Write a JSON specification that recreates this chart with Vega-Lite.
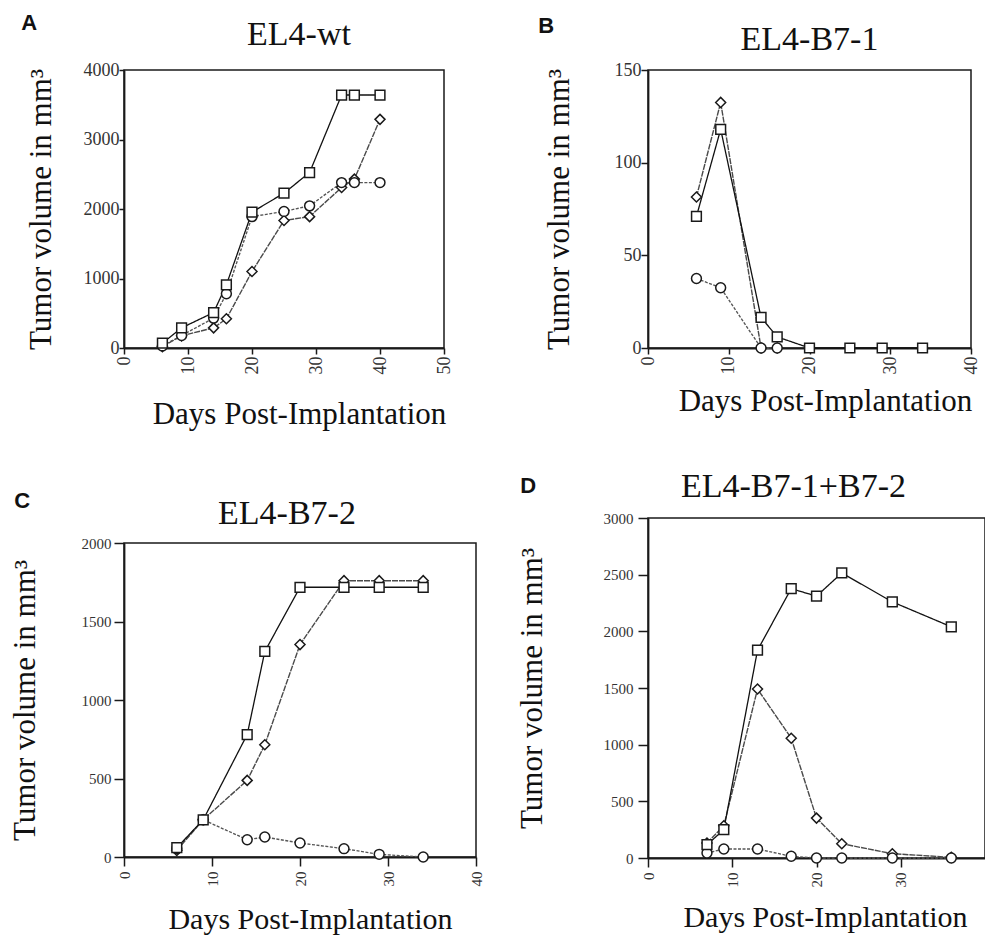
{
  "$schema": "https://vega.github.io/schema/vega-lite/v6.json",
  "padding": {"left": 8, "top": 12, "right": 0, "bottom": 0},
  "background": "white",
  "config": {
    "view": {"stroke": "#1a1a1a", "strokeWidth": 1.5},
    "legend": {"disable": true},
    "axis": {"domainColor": "#1a1a1a", "domainWidth": 1.8, "tickColor": "#1a1a1a", "tickWidth": 1.5, "labelFont": "Liberation Serif", "labelColor": "#333333", "titleFont": "Liberation Serif", "titleFontWeight": "normal", "titleColor": "#111111", "grid": false, "titleFontSize": 31, "labelFontSize": 18},
    "title": {"font": "Liberation Serif", "fontWeight": "normal", "fontSize": 34, "color": "#111111"}
  },
  "datasets": {
    "tumor": [
      {"p": "A", "s": "diamond", "d": 6, "v": 20}, {"p": "A", "s": "diamond", "d": 9, "v": 175}, {"p": "A", "s": "diamond", "d": 14, "v": 290}, {"p": "A", "s": "diamond", "d": 16, "v": 420}, {"p": "A", "s": "diamond", "d": 20, "v": 1100}, {"p": "A", "s": "diamond", "d": 25, "v": 1835}, {"p": "A", "s": "diamond", "d": 29, "v": 1890}, {"p": "A", "s": "diamond", "d": 34, "v": 2310}, {"p": "A", "s": "diamond", "d": 36, "v": 2430}, {"p": "A", "s": "diamond", "d": 40, "v": 3290},
      {"p": "A", "s": "circle", "d": 6, "v": 30}, {"p": "A", "s": "circle", "d": 9, "v": 180}, {"p": "A", "s": "circle", "d": 14, "v": 430}, {"p": "A", "s": "circle", "d": 16, "v": 780}, {"p": "A", "s": "circle", "d": 20, "v": 1890}, {"p": "A", "s": "circle", "d": 25, "v": 1965}, {"p": "A", "s": "circle", "d": 29, "v": 2045}, {"p": "A", "s": "circle", "d": 34, "v": 2380}, {"p": "A", "s": "circle", "d": 36, "v": 2380}, {"p": "A", "s": "circle", "d": 40, "v": 2380},
      {"p": "A", "s": "square", "d": 6, "v": 70}, {"p": "A", "s": "square", "d": 9, "v": 290}, {"p": "A", "s": "square", "d": 14, "v": 510}, {"p": "A", "s": "square", "d": 16, "v": 910}, {"p": "A", "s": "square", "d": 20, "v": 1955}, {"p": "A", "s": "square", "d": 25, "v": 2228}, {"p": "A", "s": "square", "d": 29, "v": 2525}, {"p": "A", "s": "square", "d": 34, "v": 3640}, {"p": "A", "s": "square", "d": 36, "v": 3640}, {"p": "A", "s": "square", "d": 40, "v": 3640},
      {"p": "B", "s": "diamond", "d": 6, "v": 81.5}, {"p": "B", "s": "diamond", "d": 9, "v": 132.5}, {"p": "B", "s": "diamond", "d": 14, "v": 0}, {"p": "B", "s": "diamond", "d": 16, "v": 0},
      {"p": "B", "s": "circle", "d": 6, "v": 37.5}, {"p": "B", "s": "circle", "d": 9, "v": 32.5}, {"p": "B", "s": "circle", "d": 14, "v": 0}, {"p": "B", "s": "circle", "d": 16, "v": 0},
      {"p": "B", "s": "square", "d": 6, "v": 71}, {"p": "B", "s": "square", "d": 9, "v": 118}, {"p": "B", "s": "square", "d": 14, "v": 16.5}, {"p": "B", "s": "square", "d": 16, "v": 6}, {"p": "B", "s": "square", "d": 20, "v": 0}, {"p": "B", "s": "square", "d": 25, "v": 0}, {"p": "B", "s": "square", "d": 29, "v": 0}, {"p": "B", "s": "square", "d": 34, "v": 0},
      {"p": "C", "s": "diamond", "d": 6, "v": 42}, {"p": "C", "s": "diamond", "d": 9, "v": 237}, {"p": "C", "s": "diamond", "d": 14, "v": 488}, {"p": "C", "s": "diamond", "d": 16, "v": 715}, {"p": "C", "s": "diamond", "d": 20, "v": 1353}, {"p": "C", "s": "diamond", "d": 25, "v": 1760}, {"p": "C", "s": "diamond", "d": 29, "v": 1760}, {"p": "C", "s": "diamond", "d": 34, "v": 1760},
      {"p": "C", "s": "circle", "d": 6, "v": 53}, {"p": "C", "s": "circle", "d": 9, "v": 237}, {"p": "C", "s": "circle", "d": 14, "v": 110}, {"p": "C", "s": "circle", "d": 16, "v": 127}, {"p": "C", "s": "circle", "d": 20, "v": 89}, {"p": "C", "s": "circle", "d": 25, "v": 53}, {"p": "C", "s": "circle", "d": 29, "v": 17}, {"p": "C", "s": "circle", "d": 34, "v": 0},
      {"p": "C", "s": "square", "d": 6, "v": 59}, {"p": "C", "s": "square", "d": 9, "v": 237}, {"p": "C", "s": "square", "d": 14, "v": 780}, {"p": "C", "s": "square", "d": 16, "v": 1309}, {"p": "C", "s": "square", "d": 20, "v": 1718}, {"p": "C", "s": "square", "d": 25, "v": 1718}, {"p": "C", "s": "square", "d": 29, "v": 1718}, {"p": "C", "s": "square", "d": 34, "v": 1718},
      {"p": "D", "s": "diamond", "d": 7, "v": 132}, {"p": "D", "s": "diamond", "d": 9, "v": 285}, {"p": "D", "s": "diamond", "d": 13, "v": 1491}, {"p": "D", "s": "diamond", "d": 17, "v": 1057}, {"p": "D", "s": "diamond", "d": 20, "v": 352}, {"p": "D", "s": "diamond", "d": 23, "v": 126}, {"p": "D", "s": "diamond", "d": 29, "v": 38}, {"p": "D", "s": "diamond", "d": 36, "v": 6},
      {"p": "D", "s": "circle", "d": 7, "v": 44}, {"p": "D", "s": "circle", "d": 9, "v": 79}, {"p": "D", "s": "circle", "d": 13, "v": 79}, {"p": "D", "s": "circle", "d": 17, "v": 15}, {"p": "D", "s": "circle", "d": 20, "v": 0}, {"p": "D", "s": "circle", "d": 23, "v": 0}, {"p": "D", "s": "circle", "d": 29, "v": 0}, {"p": "D", "s": "circle", "d": 36, "v": 0},
      {"p": "D", "s": "square", "d": 7, "v": 117}, {"p": "D", "s": "square", "d": 9, "v": 250}, {"p": "D", "s": "square", "d": 13, "v": 1834}, {"p": "D", "s": "square", "d": 17, "v": 2377}, {"p": "D", "s": "square", "d": 20, "v": 2310}, {"p": "D", "s": "square", "d": 23, "v": 2515}, {"p": "D", "s": "square", "d": 29, "v": 2260}, {"p": "D", "s": "square", "d": 36, "v": 2040}
    ]
  },
  "hconcat": [
    {
      "spacing": 60,
      "vconcat": [
        {
          "title": {"text": "A", "anchor": "start", "frame": "bounds", "font": "Liberation Sans", "fontWeight": "bold", "fontSize": 22, "offset": -18.5, "dx": -3},
          "vconcat": [
            {
              "width": 320, "height": 278,
              "title": {"text": "EL4-wt", "anchor": "middle", "frame": "group", "offset": 9.5, "dx": 15},
              "data": {"name": "tumor"},
              "transform": [{"filter": "datum.p === 'A'"}],
              "encoding": {
                "x": {"field": "d", "type": "quantitative", "scale": {"domain": [0, 50], "nice": false}, "axis": {"values": [0, 10, 20, 30, 40, 50], "labelAngle": 270, "labelFont": "Liberation Serif", "labelFontSize": 18, "tickSize": 6, "labelPadding": 2, "title": "Days Post-Implantation", "titlePadding": 25, "titleX": 175}},
                "y": {"field": "v", "type": "quantitative", "scale": {"domain": [0, 4000], "nice": false}, "axis": {"values": [0, 1000, 2000, 3000, 4000], "format": "d", "labelFont": "Liberation Serif", "labelFontSize": 18, "tickSize": 5, "labelPadding": 0, "title": "Tumor volume in mm³", "titlePadding": 26}}
              },
              "layer": [
                {"mark": {"type": "line"}, "encoding": {
                  "color": {"field": "s", "type": "nominal", "scale": {"domain": ["diamond", "circle", "square"], "range": ["#4a4a4a", "#555555", "#111111"]}},
                  "strokeDash": {"field": "s", "type": "nominal", "scale": {"domain": ["diamond", "circle", "square"], "range": [[6, 1], [3, 1.5], [1, 0]]}},
                  "strokeWidth": {"field": "s", "type": "nominal", "scale": {"domain": ["diamond", "circle", "square"], "range": [1.4, 1.3, 2]}}
                }},
                {"mark": {"type": "point", "filled": true, "fill": "white", "stroke": "#1a1a1a", "strokeWidth": 1.5, "opacity": 1}, "encoding": {
                  "shape": {"field": "s", "type": "nominal", "scale": {"domain": ["diamond", "circle", "square"], "range": ["diamond", "circle", "square"]}},
                  "size": {"field": "s", "type": "nominal", "scale": {"domain": ["diamond", "circle", "square"], "range": [100, 95, 150]}}
                }}
              ]
            }
          ]
        },
        {
          "title": {"text": "C", "anchor": "start", "frame": "bounds", "font": "Liberation Sans", "fontWeight": "bold", "fontSize": 22, "offset": -17.5, "dx": 6},
          "vconcat": [
            {
              "width": 352, "height": 314,
              "title": {"text": "EL4-B7-2", "anchor": "middle", "frame": "group", "offset": 5.5, "dx": -13},
              "data": {"name": "tumor"},
              "transform": [{"filter": "datum.p === 'C'"}],
              "encoding": {
                "x": {"field": "d", "type": "quantitative", "scale": {"domain": [0, 40], "nice": false}, "axis": {"values": [0, 10, 20, 30, 40], "labelAngle": 270, "labelFont": "Liberation Serif", "labelFontSize": 15, "tickSize": 9, "labelPadding": 5, "title": "Days Post-Implantation", "titleFontSize": 30, "titlePadding": 18, "titleX": 186}},
                "y": {"field": "v", "type": "quantitative", "scale": {"domain": [0, 2000], "nice": false}, "axis": {"values": [0, 500, 1000, 1500, 2000], "format": "d", "labelFont": "Liberation Serif", "labelFontSize": 15, "tickSize": 10, "labelPadding": 3, "title": "Tumor volume in mm³", "titlePadding": 40}}
              },
              "layer": [
                {"mark": {"type": "line"}, "encoding": {
                  "color": {"field": "s", "type": "nominal", "scale": {"domain": ["diamond", "circle", "square"], "range": ["#4a4a4a", "#555555", "#111111"]}},
                  "strokeDash": {"field": "s", "type": "nominal", "scale": {"domain": ["diamond", "circle", "square"], "range": [[6, 1], [3, 1.5], [1, 0]]}},
                  "strokeWidth": {"field": "s", "type": "nominal", "scale": {"domain": ["diamond", "circle", "square"], "range": [1.4, 1.3, 2]}}
                }},
                {"mark": {"type": "point", "filled": true, "fill": "white", "stroke": "#1a1a1a", "strokeWidth": 1.5, "opacity": 1}, "encoding": {
                  "shape": {"field": "s", "type": "nominal", "scale": {"domain": ["diamond", "circle", "square"], "range": ["diamond", "circle", "square"]}},
                  "size": {"field": "s", "type": "nominal", "scale": {"domain": ["diamond", "circle", "square"], "range": [100, 95, 150]}}
                }}
              ]
            }
          ]
        }
      ]
    },
    {
      "spacing": 51,
      "vconcat": [
        {
          "title": {"text": "B", "anchor": "start", "frame": "bounds", "font": "Liberation Sans", "fontWeight": "bold", "fontSize": 22, "offset": -16.5, "dx": -4},
          "vconcat": [
            {
              "width": 323, "height": 278,
              "title": {"text": "EL4-B7-1", "anchor": "middle", "frame": "group", "offset": 4.5, "dx": 0},
              "data": {"name": "tumor"},
              "transform": [{"filter": "datum.p === 'B'"}],
              "encoding": {
                "x": {"field": "d", "type": "quantitative", "scale": {"domain": [0, 40], "nice": false}, "axis": {"values": [0, 10, 20, 30, 40], "labelAngle": 270, "labelFont": "Liberation Serif", "labelFontSize": 18, "tickSize": 6, "labelPadding": 2, "title": "Days Post-Implantation", "titlePadding": 12, "titleX": 177}},
                "y": {"field": "v", "type": "quantitative", "scale": {"domain": [0, 150], "nice": false}, "axis": {"values": [0, 50, 100, 150], "format": "d", "labelFont": "Liberation Serif", "labelFontSize": 18, "tickSize": 7, "labelPadding": 0, "title": "Tumor volume in mm³", "titlePadding": 39}}
              },
              "layer": [
                {"mark": {"type": "line"}, "encoding": {
                  "color": {"field": "s", "type": "nominal", "scale": {"domain": ["diamond", "circle", "square"], "range": ["#4a4a4a", "#555555", "#111111"]}},
                  "strokeDash": {"field": "s", "type": "nominal", "scale": {"domain": ["diamond", "circle", "square"], "range": [[6, 1], [3, 1.5], [1, 0]]}},
                  "strokeWidth": {"field": "s", "type": "nominal", "scale": {"domain": ["diamond", "circle", "square"], "range": [1.4, 1.3, 2]}}
                }},
                {"mark": {"type": "point", "filled": true, "fill": "white", "stroke": "#1a1a1a", "strokeWidth": 1.5, "opacity": 1}, "encoding": {
                  "shape": {"field": "s", "type": "nominal", "scale": {"domain": ["diamond", "circle", "square"], "range": ["diamond", "circle", "square"]}},
                  "size": {"field": "s", "type": "nominal", "scale": {"domain": ["diamond", "circle", "square"], "range": [100, 95, 150]}}
                }}
              ]
            }
          ]
        },
        {
          "title": {"text": "D", "anchor": "start", "frame": "bounds", "font": "Liberation Sans", "fontWeight": "bold", "fontSize": 22, "offset": -29.5, "dx": 5},
          "vconcat": [
            {
              "width": 337, "height": 340,
              "title": {"text": "EL4-B7-1+B7-2", "anchor": "middle", "frame": "group", "offset": 7.5, "dx": -23},
              "data": {"name": "tumor"},
              "transform": [{"filter": "datum.p === 'D'"}],
              "encoding": {
                "x": {"field": "d", "type": "quantitative", "scale": {"domain": [0, 40], "nice": false}, "axis": {"values": [0, 10, 20, 30], "labelAngle": 270, "labelFont": "Liberation Serif", "labelFontSize": 15, "tickSize": 9, "labelPadding": 5, "title": "Days Post-Implantation", "titleFontSize": 30, "titlePadding": 15, "titleX": 177}},
                "y": {"field": "v", "type": "quantitative", "scale": {"domain": [0, 3000], "nice": false}, "axis": {"values": [0, 500, 1000, 1500, 2000, 2500, 3000], "format": "d", "labelFont": "Liberation Serif", "labelFontSize": 15, "tickSize": 10, "labelPadding": 5, "title": "Tumor volume in mm³", "titlePadding": 55}}
              },
              "layer": [
                {"mark": {"type": "line"}, "encoding": {
                  "color": {"field": "s", "type": "nominal", "scale": {"domain": ["diamond", "circle", "square"], "range": ["#4a4a4a", "#555555", "#111111"]}},
                  "strokeDash": {"field": "s", "type": "nominal", "scale": {"domain": ["diamond", "circle", "square"], "range": [[6, 1], [3, 1.5], [1, 0]]}},
                  "strokeWidth": {"field": "s", "type": "nominal", "scale": {"domain": ["diamond", "circle", "square"], "range": [1.4, 1.3, 2]}}
                }},
                {"mark": {"type": "point", "filled": true, "fill": "white", "stroke": "#1a1a1a", "strokeWidth": 1.5, "opacity": 1}, "encoding": {
                  "shape": {"field": "s", "type": "nominal", "scale": {"domain": ["diamond", "circle", "square"], "range": ["diamond", "circle", "square"]}},
                  "size": {"field": "s", "type": "nominal", "scale": {"domain": ["diamond", "circle", "square"], "range": [100, 95, 150]}}
                }}
              ]
            }
          ]
        }
      ]
    }
  ],
  "spacing": 30
}
